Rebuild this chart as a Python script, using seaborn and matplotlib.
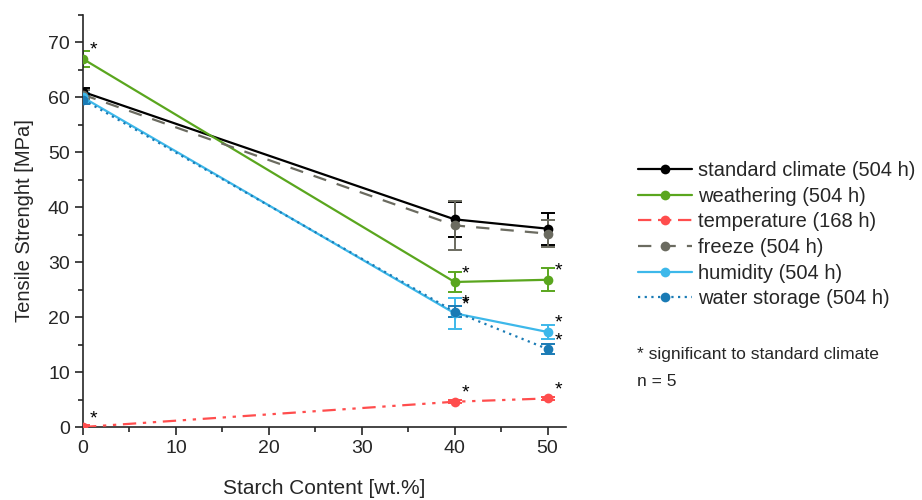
import matplotlib
matplotlib.use("Agg")
import matplotlib.pyplot as plt
import seaborn as sns
import pandas as pd
from matplotlib.ticker import MultipleLocator

starch = [0, 40, 50]
series_names = ["standard climate (504 h)", "weathering (504 h)", "temperature (168 h)",
                "freeze (504 h)", "humidity (504 h)", "water storage (504 h)"]
standard = [61.0, 37.8, 36.1]
standard_err = [0.8, 3.2, 2.9]
weathering = [67.0, 26.4, 26.8]
weathering_err = [1.5, 1.8, 2.1]
temperature = [0.0, 4.6, 5.2]
temperature_err = [0.3, 0.3, 0.3]
freeze = [60.5, 36.7, 35.2]
freeze_err = [0.8, 4.5, 2.4]
humidity = [60.0, 20.7, 17.3]
humidity_err = [0.8, 2.8, 1.3]
water = [59.6, 21.0, 14.2]
water_err = [0.8, 1.0, 1.0]
signif = {
    "weathering (504 h)": [True, True, True],
    "temperature (168 h)": [True, True, True],
    "humidity (504 h)": [False, True, True],
    "water storage (504 h)": [False, True, True],
}

values = [standard, weathering, temperature, freeze, humidity, water]
errors = [standard_err, weathering_err, temperature_err, freeze_err, humidity_err, water_err]
colors = ["#000000", "#5aa61e", "#ff4d4d", "#6b6b60", "#3db8ea", "#1a7bb5"]
styles = ["-", "-", (0, (6, 3, 1.5, 3, 1.5, 3)), (0, (6, 5)), "-", (0, (1, 2))]

sns.set_style("ticks")
plt.rcParams['font.family'] = ['Arial', 'Liberation Sans', 'DejaVu Sans']

fig = plt.figure(figsize=(9.22, 5.0), dpi=100)
ax = fig.add_axes([0.09, 0.146, 0.524, 0.824])

rows = []
for name, v in zip(series_names, values):
    for x, y in zip(starch, v):
        rows.append({"starch": x, "strength": y, "series": name})
df = pd.DataFrame(rows)

for name, v, e, c, ls in zip(series_names, values, errors, colors, styles):
    sub = df[df.series == name]
    sns.lineplot(data=sub, x="starch", y="strength", ax=ax, color=c, marker="o",
                 markersize=7, markeredgewidth=0, linewidth=1.6, label=name,
                 linestyle=ls, zorder=3)
    ax.errorbar(starch, v, yerr=e, fmt="none", ecolor=c, elinewidth=1.4,
                capsize=5, capthick=1.4, zorder=2)
    if name in signif:
        for x, y, s in zip(starch, v, signif[name]):
            if s:
                ax.annotate("*", (x, y), xytext=(5, 0), textcoords="offset points",
                            fontsize=14, ha="left", va="bottom", color="black")

ax.set_xlim(0, 52)
ax.set_ylim(0, 75)
ax.xaxis.set_major_locator(MultipleLocator(10))
ax.xaxis.set_minor_locator(MultipleLocator(5))
ax.yaxis.set_major_locator(MultipleLocator(10))
ax.yaxis.set_minor_locator(MultipleLocator(5))
ax.tick_params(axis="both", which="major", labelsize=14, length=6, width=1.2)
ax.tick_params(axis="both", which="minor", length=3.5, width=1.2)
for s in ["left", "bottom"]:
    ax.spines[s].set_linewidth(1.2)
sns.despine(ax=ax)
ax.set_xlabel("Starch Content [wt.%]", fontsize=15, labelpad=16)
ax.set_ylabel("Tensile Strenght [MPa]", fontsize=14.5, labelpad=10)

leg = ax.legend(loc="upper left", bbox_to_anchor=(0.692, 0.678), bbox_transform=fig.transFigure,
                frameon=False, fontsize=14.5, handlelength=2.7, labelspacing=0.33,
                handletextpad=0.3, borderaxespad=0, borderpad=0)
fig.text(0.691, 0.29, "* significant to standard climate", fontsize=12.6, va="center")
fig.text(0.691, 0.236, "n = 5", fontsize=12.6, va="center")

fig.savefig("out.png", dpi=100)
